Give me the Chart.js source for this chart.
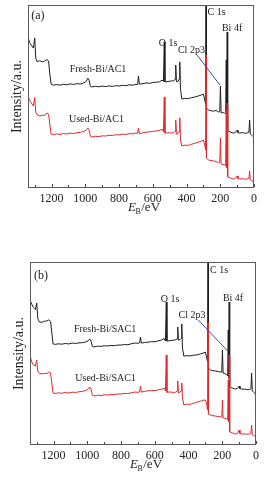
<!DOCTYPE html>
<html>
<head>
<meta charset="utf-8">
<script src="https://cdn.jsdelivr.net/npm/chart.js@4.4.1/dist/chart.umd.min.js"></script>
<style>
  html, body { margin: 0; padding: 0; background: #ffffff; }
  body { width: 277px; height: 487px; position: relative; overflow: hidden; }
  canvas { position: absolute; left: 0; }
  #ca { top: 0; }
  #cb { top: 240px; }
</style>
</head>
<body>
<canvas id="ca" width="277" height="232"></canvas>
<canvas id="cb" width="277" height="247"></canvas>
<script>
// Binding energy (eV), shared by all four spectra
const energy = [1340,1330,1320,1308,1300,1294,1286,1270,1255,1240,1228,1218,1210,1203,1190,1170,1150,1130,1110,1090,1070,1050,1030,1010,995,985,978,970,962,940,920,900,880,860,840,820,800,780,760,740,720,700,690,685,680,660,640,620,600,580,560,545,537,532,528,510,490,475,468,464,460,450,444,440,436,428,410,390,370,350,330,310,300,292,287,284.6,282,270,255,240,225,210,203,199,195,185,175,168,164.5,162,159,156,150,140,130,120,110,100,95,85,70,55,40,30,26,22,15,8,0];

// Panel (a) intensities (a.u.)
const freshAC1 = [82.5,79.5,78.0,76.5,82.0,71.0,69.0,69.6,68.9,69.5,70.2,69.4,61.7,56.8,56.2,56.5,56.2,56.7,56.4,56.9,56.6,57.0,56.8,57.4,58.3,60.0,59.0,55.5,55.2,55.6,55.3,55.7,55.4,55.8,55.5,55.9,55.7,56.1,55.9,56.4,56.2,56.6,56.5,61.2,56.8,57.0,57.4,57.2,57.6,57.8,58.0,59.0,58.2,79.8,58.0,58.2,58.5,58.6,59.5,67.2,58.0,58.3,59.5,68.9,54.0,48.6,49.0,48.8,49.4,49.7,50.3,50.9,51.4,48.0,45.9,100,43.7,42.6,42.2,42.0,42.4,41.5,41.7,55.7,41.0,41.3,40.8,41.0,70.0,38.0,85.2,31.7,31.0,30.6,30.2,30.0,30.4,31.6,30.2,30.0,30.3,29.9,30.1,30.5,37.2,29.5,29.0,28.4,27.9];
const usedAC1 = [49.7,48.0,46.4,44.8,49.5,41.5,40.0,39.4,39.8,39.6,41.0,40.4,34.4,29.5,29.2,29.6,29.3,29.8,29.5,30.0,29.7,30.2,30.4,30.9,31.6,32.8,31.9,28.2,27.9,28.3,28.1,28.5,28.4,28.8,28.7,29.1,29.0,29.4,29.3,29.7,29.6,30.0,29.9,32.8,29.6,30.2,30.5,30.7,30.9,31.2,31.4,32.2,30.8,49.7,30.0,30.2,30.0,30.3,31.0,37.2,29.5,29.8,30.6,38.3,26.2,23.0,23.4,23.3,23.9,24.5,25.0,25.7,26.2,23.5,20.8,72.7,16.4,15.3,15.0,14.8,14.5,13.7,13.9,27.3,13.1,12.8,12.6,12.0,42.6,11.0,46.4,6.0,5.7,5.5,5.2,4.9,5.3,6.6,5.0,4.9,5.1,4.8,4.9,5.4,9.3,4.4,4.1,3.8,2.7];

// Panel (b) intensities (a.u.)
const freshSAC1 = [79.2,77.0,75.2,74.0,77.6,69.4,67.4,67.0,67.6,67.8,68.4,67.6,60.7,55.2,55.0,55.3,55.1,55.5,55.2,55.7,55.5,55.8,55.9,56.3,57.0,57.9,56.8,53.8,53.6,54.0,53.9,54.2,54.1,54.4,54.3,54.6,54.6,54.9,54.8,55.3,55.7,55.6,55.8,59.0,55.7,56.0,56.2,56.5,56.4,56.9,57.4,58.2,56.8,78.1,56.8,57.0,57.3,57.5,58.0,64.5,57.2,57.6,58.2,66.1,53.0,48.6,48.8,48.7,49.1,49.2,49.8,50.3,50.8,47.5,45.4,100,42.0,41.0,40.6,40.4,40.1,39.9,39.8,51.9,39.3,39.0,38.6,37.7,62.8,36.6,78.1,32.2,31.5,31.1,30.8,30.6,30.9,32.2,30.8,30.6,30.5,30.4,30.2,30.7,39.3,29.5,29.0,28.4,27.3];
const usedSAC1 = [49.2,45.4,43.7,43.2,46.4,40.4,39.3,38.8,39.1,39.0,39.9,39.4,33.3,28.4,28.1,28.5,28.3,28.7,28.4,28.9,28.7,29.1,29.3,29.8,30.6,31.7,30.6,27.0,26.8,27.2,27.0,27.4,27.3,27.6,27.5,27.9,27.9,28.2,28.1,28.5,28.9,28.8,29.0,32.2,28.9,29.3,29.6,29.8,29.7,30.1,30.4,31.1,29.6,49.2,28.8,29.0,28.7,28.9,29.5,35.0,28.4,28.9,29.6,33.9,25.7,21.9,22.3,22.2,22.8,23.4,23.9,24.5,24.6,22.4,19.1,67.2,16.9,16.4,16.0,15.8,15.6,15.3,15.2,24.6,14.8,14.6,14.3,13.7,35.5,12.6,49.2,7.1,6.8,6.6,6.3,6.0,6.4,8.2,6.2,6.0,6.1,5.9,6.0,6.5,10.9,5.5,5.2,4.9,4.4];

// Axis
const xMin = 0, xMax = 1340;
const tickLabels = [0, 200, 400, 600, 800, 1000, 1200];

const BLACK = '#1e1e1e';
const RED = '#e3262b';
const SERIF = "'Liberation Serif', 'Times New Roman', serif";

function pts(ys) { return energy.map((e, i) => ({ x: e, y: ys[i] })); }

const panelPlugin = {
  id: 'panel',
  afterDraw(chart, args, o) {
    const { ctx, chartArea: a, scales } = chart;
    const x = scales.x, y = scales.y;
    ctx.save();
    // frame
    ctx.strokeStyle = '#5a5a5a';
    ctx.lineWidth = 1;
    ctx.strokeRect(a.left + 0.5, a.top + 0.5, a.right - a.left - 1, a.bottom - a.top - 1);
    // inward ticks
    ctx.strokeStyle = '#444';
    x.ticks.forEach(t => {
      const px = Math.round(x.getPixelForValue(t.value)) + 0.5;
      const len = tickLabels.includes(t.value) ? 3 : 2;
      ctx.beginPath();
      ctx.moveTo(px, a.bottom - 1);
      ctx.lineTo(px, a.bottom - 1 - len);
      ctx.stroke();
    });
    // arrow
    if (o.arrow) {
      ctx.strokeStyle = '#3b4f9e';
      ctx.lineWidth = 1;
      ctx.beginPath();
      ctx.moveTo(x.getPixelForValue(o.arrow[0]), y.getPixelForValue(o.arrow[1]));
      ctx.lineTo(x.getPixelForValue(o.arrow[2]), y.getPixelForValue(o.arrow[3]));
      ctx.stroke();
    }
    // labels
    ctx.fillStyle = '#222';
    ctx.textAlign = 'center';
    ctx.textBaseline = 'middle';
    (o.labels || []).forEach(l => {
      ctx.font = (l.size || 10) + 'px ' + SERIF;
      ctx.fillText(l.text, x.getPixelForValue(l.e), y.getPixelForValue(l.v));
    });
    // y title
    ctx.save();
    ctx.translate(a.left - 11, (a.top + a.bottom) / 2);
    ctx.rotate(-Math.PI / 2);
    ctx.font = '14px ' + SERIF;
    ctx.fillText('Intensity/a.u.', 0, 0);
    ctx.restore();
    // x title  E_B/eV
    ctx.textAlign = 'left';
    ctx.textBaseline = 'alphabetic';
    const base = a.bottom + 23;
    const cx = (a.left + a.right) / 2 + 3;
    ctx.font = 'italic 13px ' + SERIF;
    const wE = ctx.measureText('E').width;
    ctx.font = '8px ' + SERIF;
    const wB = ctx.measureText('B').width;
    ctx.font = '13px ' + SERIF;
    const wR = ctx.measureText('/eV').width;
    let sx = cx - (wE + wB + wR) / 2;
    ctx.font = 'italic 13px ' + SERIF;
    ctx.fillText('E', sx, base);
    sx += wE - 0.5;
    ctx.font = '8px ' + SERIF;
    ctx.fillText('B', sx, base + 3);
    sx += wB + 0.5;
    ctx.font = '13px ' + SERIF;
    ctx.fillText('/eV', sx, base);
    ctx.restore();
  }
};

function makeChart(id, fresh, used, pad, axisH, opts) {
  return new Chart(document.getElementById(id), {
    type: 'line',
    data: {
      datasets: [
        { label: 'used', data: pts(used), borderColor: RED, borderWidth: 1, pointRadius: 0, tension: 0, order: 0 },
        { label: 'fresh', data: pts(fresh), borderColor: BLACK, borderWidth: 1, pointRadius: 0, tension: 0, order: 1 }
      ]
    },
    options: {
      responsive: false,
      animation: false,
      devicePixelRatio: 1,
      layout: { padding: pad },
      plugins: { legend: { display: false }, tooltip: { enabled: false }, panel: opts },
      scales: {
        x: {
          type: 'linear', reverse: true, min: xMin, max: xMax,
          grid: { display: false, drawTicks: false },
          border: { display: false },
          afterFit(s) { s.height = axisH; },
          ticks: {
            stepSize: 100, autoSkip: false, maxRotation: 0, includeBounds: false,
            padding: 4, color: '#222',
            font: { family: SERIF, size: 12 },
            callback: v => tickLabels.includes(v) ? String(v) : ''
          }
        },
        y: { display: false, min: 0, max: 100 }
      }
    },
    plugins: [panelPlugin]
  });
}

makeChart('ca', freshAC1, usedAC1, { top: 5, right: 23, left: 28, bottom: 0 }, 44, {
  labels: [
    { text: '(a)', e: 1281, v: 94, size: 12 },
    { text: 'Fresh-Bi/AC1', e: 925, v: 64.8 },
    { text: 'Used-Bi/AC1', e: 934, v: 37.4 },
    { text: 'O 1s', e: 510, v: 79.2 },
    { text: 'C 1s', e: 222, v: 95.9 },
    { text: 'Bi 4f', e: 130, v: 87.2 },
    { text: 'Cl 2p3', e: 371, v: 75.4 }
  ],
  arrow: [338, 72.7, 202, 56.3]
});

makeChart('cb', freshSAC1, usedSAC1, { top: 22, right: 21, left: 30, bottom: 0 }, 42, {
  labels: [
    { text: '(b)', e: 1275, v: 92.3, size: 12 },
    { text: 'Fresh-Bi/SAC1', e: 895, v: 63.4 },
    { text: 'Used-Bi/SAC1', e: 892, v: 36.6 },
    { text: 'O 1s', e: 510, v: 79.5 },
    { text: 'C 1s', e: 219, v: 95.6 },
    { text: 'Bi 4f', e: 136, v: 80.3 },
    { text: 'Cl 2p3', e: 379, v: 71 }
  ],
  arrow: [342, 68.3, 164, 51]
});
</script>
</body>
</html>
